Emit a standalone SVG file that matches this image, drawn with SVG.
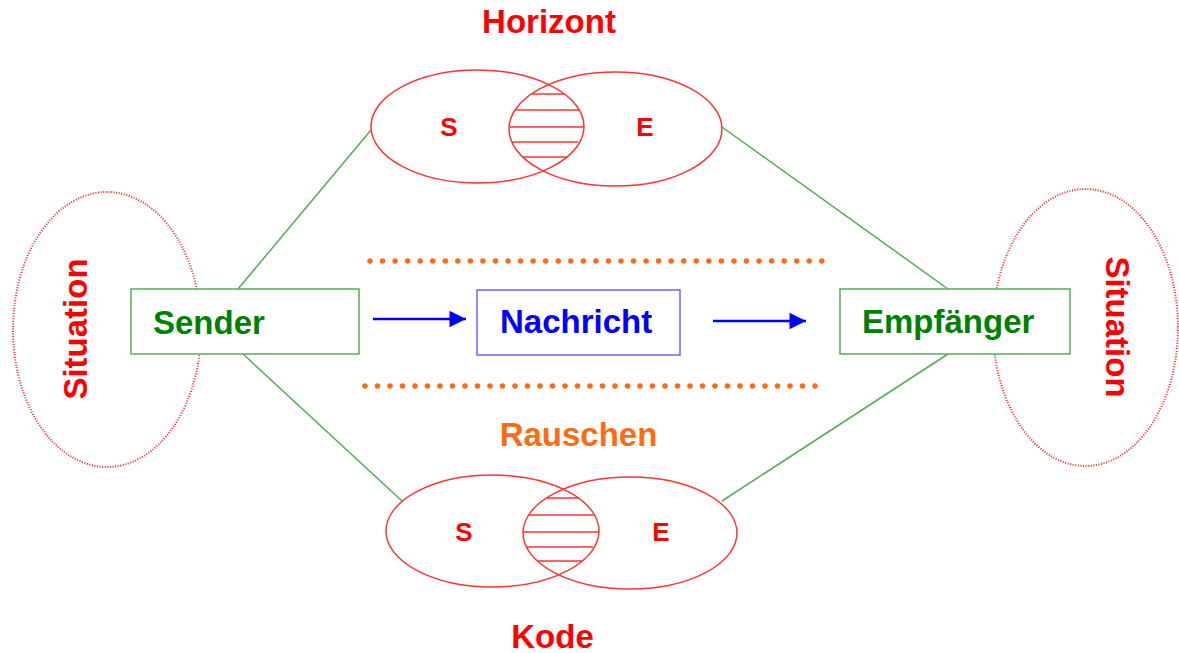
<svg xmlns="http://www.w3.org/2000/svg" width="1179" height="653" viewBox="0 0 1179 653">
<style>
text{font-family:"Liberation Sans",Arial,sans-serif;font-weight:bold}
.red{fill:#ff0000}
.lbl{font-size:33px}
.se{font-size:26px}
.ell{fill:none;stroke:#ff3333;stroke-width:1.5}
.hatch{stroke:#ff3333;stroke-width:1.5}
.sit{fill:none;stroke:#ff2222;stroke-width:2;stroke-dasharray:1 1.6}
.conn{stroke:#55aa55;stroke-width:1.5;fill:none}
.noise{stroke:#ff6a13;stroke-width:5.5;stroke-linecap:round;stroke-dasharray:0 12.55}
.arrow{stroke:#0000ff;stroke-width:2.5;fill:none}
</style>
<defs>
<marker id="ah" viewBox="0 0 10 10" refX="10" refY="5" markerWidth="7" markerHeight="6.6" orient="auto" markerUnits="strokeWidth">
<path d="M0,0 L10,5 L0,10 z" fill="#0000ff"/>
</marker>
<clipPath id="lensTop"><ellipse cx="477.5" cy="126.5" rx="106.5" ry="56.5"/></clipPath>
<clipPath id="lensTopB"><ellipse cx="615.5" cy="129" rx="106.5" ry="57"/></clipPath>
<clipPath id="lensBot"><ellipse cx="492.5" cy="531" rx="106.5" ry="56"/></clipPath>
<clipPath id="lensBotB"><ellipse cx="630" cy="533" rx="107" ry="56"/></clipPath>
</defs>
<rect width="1179" height="653" fill="#ffffff"/>

<g id="connectors">
<line class="conn" x1="238" y1="289" x2="371" y2="130"/>
<line class="conn" x1="722" y1="127" x2="948" y2="289"/>
<line class="conn" x1="243" y1="354" x2="402" y2="501"/>
<line class="conn" x1="948" y1="354" x2="722" y2="501"/>
<line class="arrow" x1="373" y1="319" x2="466" y2="319" marker-end="url(#ah)"/>
<line class="arrow" x1="713" y1="321" x2="806" y2="321" marker-end="url(#ah)"/>
</g>

<g id="rauschen">
<line class="noise" x1="370" y1="261" x2="822.5" y2="261"/>
<line class="noise" x1="365" y1="386" x2="816" y2="386" style="stroke-dasharray:0 12.5"/>
<text x="578.5" y="446" class="lbl" text-anchor="middle" fill="#ff6a13">Rauschen</text>
</g>

<g id="horizont">
<g clip-path="url(#lensTop)"><g clip-path="url(#lensTopB)">
<line class="hatch" x1="500" y1="94" x2="600" y2="94"/>
<line class="hatch" x1="500" y1="110" x2="600" y2="110"/>
<line class="hatch" x1="500" y1="127" x2="600" y2="127"/>
<line class="hatch" x1="500" y1="142" x2="578" y2="142"/>
<line class="hatch" x1="500" y1="157" x2="600" y2="157"/>
</g></g>
<ellipse class="ell" cx="477.5" cy="126.5" rx="106.5" ry="56.5"/>
<ellipse class="ell" cx="615.5" cy="129" rx="106.5" ry="57"/>
<text x="449" y="136" class="se red" text-anchor="middle">S</text>
<text x="645" y="136" class="se red" text-anchor="middle">E</text>
<text x="549" y="33" class="lbl red" text-anchor="middle">Horizont</text>
</g>

<g id="kode">
<g clip-path="url(#lensBot)"><g clip-path="url(#lensBotB)">
<line class="hatch" x1="515" y1="498" x2="615" y2="498"/>
<line class="hatch" x1="515" y1="515" x2="615" y2="515"/>
<line class="hatch" x1="515" y1="532" x2="615" y2="532"/>
<line class="hatch" x1="515" y1="547" x2="593" y2="547"/>
<line class="hatch" x1="515" y1="561" x2="615" y2="561"/>
</g></g>
<ellipse class="ell" cx="492.5" cy="531" rx="106.5" ry="56"/>
<ellipse class="ell" cx="630" cy="533" rx="107" ry="56"/>
<text x="464" y="541" class="se red" text-anchor="middle">S</text>
<text x="661" y="541" class="se red" text-anchor="middle">E</text>
<text x="552.5" y="648" class="lbl red" text-anchor="middle">Kode</text>
</g>

<g id="situation-left">
<ellipse class="sit" cx="107" cy="329.5" rx="94" ry="137.5"/>
<text class="lbl red" text-anchor="middle" transform="translate(87,329) rotate(-90)">Situation</text>
</g>

<g id="situation-right">
<ellipse class="sit" cx="1085.5" cy="327.5" rx="92.5" ry="138.5"/>
<text class="lbl red" text-anchor="middle" transform="translate(1106,327) rotate(90)">Situation</text>
</g>

<g id="sender">
<rect x="131" y="289" width="228" height="65" fill="#ffffff" stroke="#55aa55" stroke-width="1.5"/>
<text x="153" y="334" class="lbl" fill="#008000">Sender</text>
</g>

<g id="nachricht">
<rect x="477" y="290" width="203" height="65" fill="#ffffff" stroke="#6666ff" stroke-width="1.5"/>
<text x="500" y="333" class="lbl" fill="#0000ff">Nachricht</text>
</g>

<g id="empfaenger">
<rect x="840" y="289" width="230" height="65" fill="#ffffff" stroke="#55aa55" stroke-width="1.5"/>
<text x="862" y="333" class="lbl" fill="#008000">Empfänger</text>
</g>
</svg>
